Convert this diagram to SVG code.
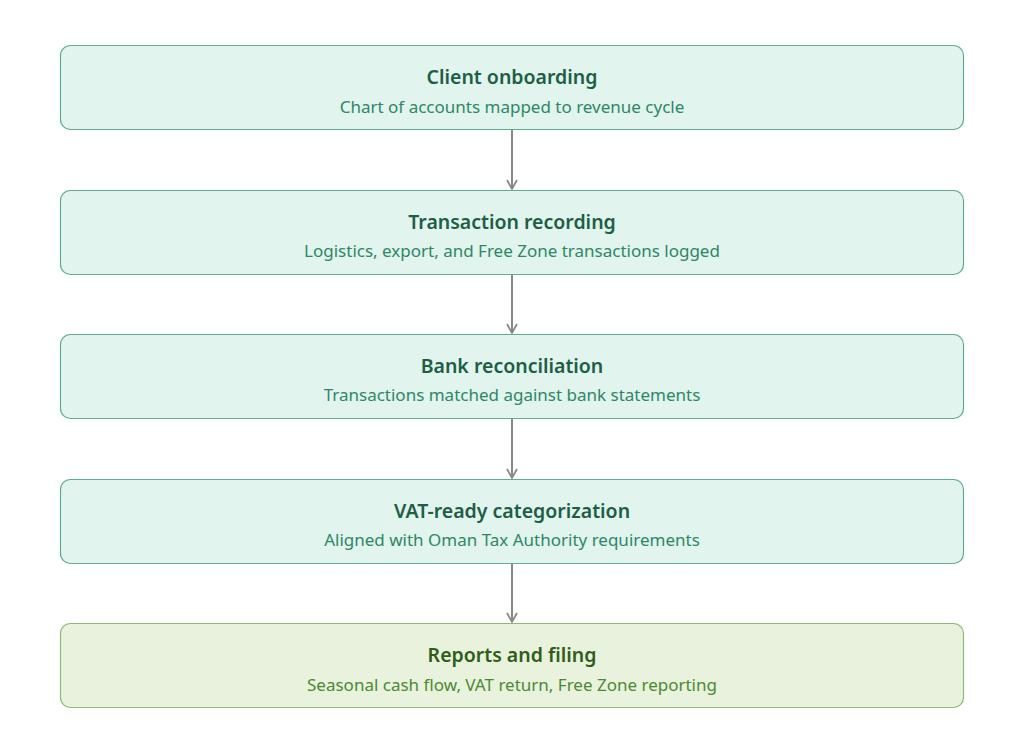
<svg xmlns="http://www.w3.org/2000/svg" width="1024" height="738" viewBox="0 0 1024 738">
<style>
.box{fill:#e1f4ed;stroke:#5fae8c;stroke-width:1.2}
.t{font-family:"Noto Sans","Open Sans",sans-serif;font-size:19.5px;font-weight:600;fill:#1d5e46;text-anchor:middle}
.s{font-family:"Noto Sans","Open Sans",sans-serif;font-size:17px;fill:#2e8766;text-anchor:middle}
.fbox{fill:#e8f2dd;stroke:#8dba74;stroke-width:1.2}
.ft{fill:#2f5e19}
.fs{fill:#4b8a32}
.c{stroke:#888;stroke-width:2;fill:none;marker-end:url(#a)}
</style>
<defs>
<marker id="a" viewBox="0 0 12 12" refX="10" refY="6" markerWidth="12" markerHeight="12" markerUnits="userSpaceOnUse" orient="auto">
<path d="M1,1 L10,6 L1,11" fill="none" stroke="#888" stroke-width="1.8"/>
</marker>
</defs>
<rect width="1024" height="738" fill="#fff"/>
<g id="connectors">
<line class="c" x1="512" y1="130" x2="512" y2="189"/>
<line class="c" x1="512" y1="275" x2="512" y2="333"/>
<line class="c" x1="512" y1="419" x2="512" y2="478"/>
<line class="c" x1="512" y1="564" x2="512" y2="622"/>
</g>
<g id="n1">
<rect class="box" x="60.5" y="45.5" width="903" height="84" rx="10"/>
<text class="t" x="512" y="84">Client onboarding</text>
<text class="s" x="512" y="113">Chart of accounts mapped to revenue cycle</text>
</g>
<g id="n2">
<rect class="box" x="60.5" y="190.5" width="903" height="84" rx="10"/>
<text class="t" x="512" y="229">Transaction recording</text>
<text class="s" x="512" y="257">Logistics, export, and Free Zone transactions logged</text>
</g>
<g id="n3">
<rect class="box" x="60.5" y="334.5" width="903" height="84" rx="10"/>
<text class="t" x="512" y="373">Bank reconciliation</text>
<text class="s" x="512" y="401">Transactions matched against bank statements</text>
</g>
<g id="n4">
<rect class="box" x="60.5" y="479.5" width="903" height="84" rx="10"/>
<text class="t" x="512" y="518">VAT-ready categorization</text>
<text class="s" x="512" y="546">Aligned with Oman Tax Authority requirements</text>
</g>
<g id="n5">
<rect class="fbox" x="60.5" y="623.5" width="903" height="84" rx="10"/>
<text class="t ft" x="512" y="662">Reports and filing</text>
<text class="s fs" x="512" y="691">Seasonal cash flow, VAT return, Free Zone reporting</text>
</g>
</svg>
